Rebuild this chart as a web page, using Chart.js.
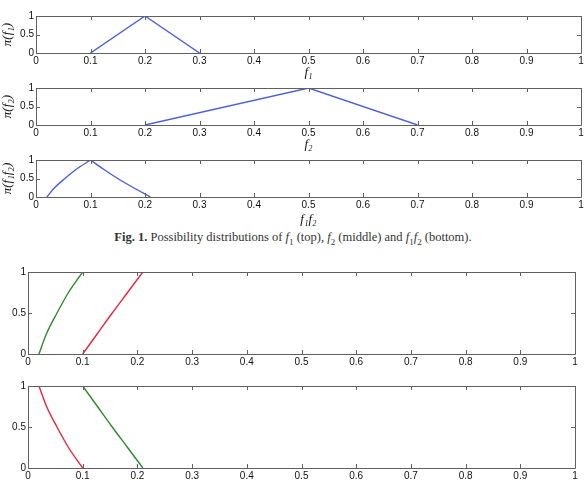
<!DOCTYPE html>
<html>
<head>
<meta charset="utf-8">
<script src="https://cdn.jsdelivr.net/npm/chart.js@4"></script>
<style>
  body { margin: 0; background: #fff; }
  #wrap { position: relative; width: 586px; height: 485px; overflow: hidden; }
  canvas { position: absolute; left: 0; }
  #caption { position: absolute; top: 230px; left: 0; width: 586px; text-align: center;
    font: 12.5px 'Liberation Serif', serif; color: #333; }
  #caption sub { font-size: 9px; }
</style>
</head>
<body>
<div id="wrap">
  <canvas id="c1" width="586" height="80" style="top:0px"></canvas>
  <canvas id="c2" width="586" height="72" style="top:80px"></canvas>
  <canvas id="c3" width="586" height="75" style="top:152px"></canvas>
  <div id="caption"><b>Fig. 1.</b> Possibility distributions of <i>f</i><sub>1</sub> (top), <i>f</i><sub>2</sub> (middle) and <i>f</i><sub>1</sub><i>f</i><sub>2</sub> (bottom).</div>
  <canvas id="c4" width="586" height="110" style="top:260px"></canvas>
  <canvas id="c5" width="586" height="110" style="top:375px"></canvas>
</div>
<script>
// fig 1 - possibility distributions
const f1X = [0.1, 0.2, 0.3];
const f1Y = [0, 1, 0];
const f2X = [0.2, 0.5, 0.7];
const f2Y = [0, 1, 0];
const f12LeftX = [0.02, 0.034, 0.053, 0.074, 0.1];
const f12LeftY = [0, 0.25, 0.5, 0.75, 1];
const f12RightX = [0.1, 0.124, 0.15, 0.179, 0.21];
const f12RightY = [1, 0.75, 0.5, 0.25, 0];

// lower two panels
const greenUpX = [0.02, 0.034, 0.053, 0.074, 0.1];
const greenUpY = [0, 0.25, 0.5, 0.75, 1];
const redUpX = [0.1, 0.127, 0.154, 0.182, 0.21];
const redUpY = [0, 0.25, 0.5, 0.75, 1];
const redDownX = [0.02, 0.034, 0.053, 0.074, 0.1];
const redDownY = [1, 0.75, 0.5, 0.25, 0];
const greenDownX = [0.1, 0.127, 0.154, 0.182, 0.21];
const greenDownY = [1, 0.75, 0.5, 0.25, 0];

const BLUE = '#4d5fd8';
const GREEN = '#2f8a2f';
const RED = '#e8243c';

const pts = (xs, ys) => xs.map((x, i) => ({ x: x, y: ys[i] }));

const line = (xs, ys, color, smooth) => ({
  data: pts(xs, ys),
  borderColor: color,
  borderWidth: 1.4,
  pointRadius: 0,
  showLine: true,
  tension: 0,
  cubicInterpolationMode: smooth ? 'monotone' : 'default',
  fill: false
});

// matlab style box with inward ticks
const boxPlugin = {
  id: 'box',
  afterDraw(chart) {
    const { ctx, chartArea: a, scales } = chart;
    ctx.save();
    ctx.strokeStyle = '#606060';
    ctx.lineWidth = 1;
    ctx.beginPath();
    ctx.rect(Math.round(a.left) + 0.5, Math.round(a.top) + 0.5,
      Math.round(a.right - a.left), Math.round(a.bottom - a.top));
    ctx.stroke();
    ctx.beginPath();
    scales.x.ticks.forEach(t => {
      const px = Math.round(scales.x.getPixelForValue(t.value)) + 0.5;
      ctx.moveTo(px, a.bottom); ctx.lineTo(px, a.bottom - 4);
      ctx.moveTo(px, a.top); ctx.lineTo(px, a.top + 4);
    });
    scales.y.ticks.forEach(t => {
      const py = Math.round(scales.y.getPixelForValue(t.value)) + 0.5;
      ctx.moveTo(a.left, py); ctx.lineTo(a.left + 4, py);
      ctx.moveTo(a.right, py); ctx.lineTo(a.right - 4, py);
    });
    ctx.stroke();
    ctx.restore();
  }
};

const fmt = v => String(Math.round(v * 10) / 10);

function makeChart(id, datasets, o) {
  const ctx = document.getElementById(id).getContext('2d');
  return new Chart(ctx, {
    type: 'scatter',
    data: { datasets: datasets },
    options: {
      responsive: false,
      animation: false,
      layout: { padding: { top: o.top, right: o.right, left: 0, bottom: 0 } },
      plugins: { legend: { display: false }, tooltip: { enabled: false } },
      scales: {
        x: {
          type: 'linear', min: 0, max: 1,
          grid: { display: false, drawTicks: false },
          border: { display: false },
          ticks: {
            stepSize: 0.1, padding: 2, maxRotation: 0, color: '#111',
            font: { family: 'Liberation Sans', size: 10 },
            callback: fmt
          },
          title: {
            display: !!o.xTitle, text: o.xTitle || '', color: '#111',
            padding: { top: 0, bottom: 0 },
            font: { family: 'Liberation Serif', style: 'italic', size: 13 }
          },
          afterFit: s => { s.height = o.xH; }
        },
        y: {
          type: 'linear', min: 0, max: 1,
          grid: { display: false, drawTicks: false },
          border: { display: false },
          ticks: {
            stepSize: 0.5, padding: 2, color: '#111',
            font: { family: 'Liberation Sans', size: 10 },
            callback: fmt
          },
          title: {
            display: !!o.yTitle, text: o.yTitle || '', color: '#111',
            padding: { top: 0, bottom: 0 },
            font: { family: 'Liberation Serif', style: 'italic', size: 13 }
          },
          afterFit: s => { s.width = o.yW; }
        }
      }
    },
    plugins: [boxPlugin]
  });
}

makeChart('c1', [line(f1X, f1Y, BLUE, false)],
  { top: 16, right: 5, xH: 27, yW: 36, xTitle: 'f₁', yTitle: 'π(f₁)' });
makeChart('c2', [line(f2X, f2Y, BLUE, false)],
  { top: 8, right: 5, xH: 27, yW: 36, xTitle: 'f₂', yTitle: 'π(f₂)' });
makeChart('c3', [line(f12LeftX, f12LeftY, BLUE, true), line(f12RightX, f12RightY, BLUE, true)],
  { top: 7, right: 5, xH: 30, yW: 36, xTitle: 'f₁f₂', yTitle: 'π(f₁f₂)' });
makeChart('c4', [line(greenUpX, greenUpY, GREEN, true), line(redUpX, redUpY, RED, true)],
  { top: 12, right: 11, xH: 16, yW: 28 });
makeChart('c5', [line(redDownX, redDownY, RED, true), line(greenDownX, greenDownY, GREEN, true)],
  { top: 11, right: 11, xH: 17, yW: 28 });
</script>
</body>
</html>
